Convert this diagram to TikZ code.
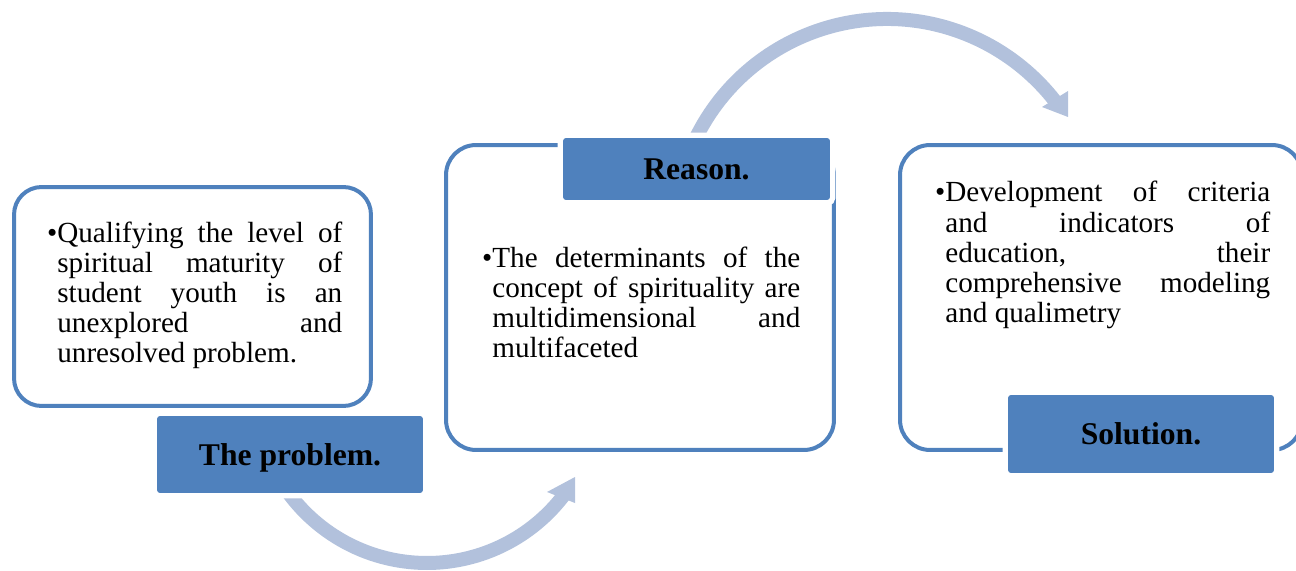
\documentclass[tikz,border=0pt]{standalone}
\usepackage{fontspec}
\setmainfont{Liberation Serif}
\definecolor{boxblue}{HTML}{4F81BD}
\definecolor{arrowblue}{HTML}{B2C1DC}
\newcommand{\bodyfont}{\fontsize{16.6}{17.2}\selectfont\tolerance=10000\relax\hyphenpenalty=10000\relax}

\begin{document}
\begin{tikzpicture}[x=0.02cm, y=-0.02cm,
		bigbox/.style={draw=boxblue, line width=0.08cm, fill=white, rounded corners=0.6cm},
		tagbox/.style={fill=boxblue, rounded corners=0.06cm, preaction={draw=white, line width=0.22cm},
			inner sep=0pt, text depth=0pt, font=\fontsize{18}{20}\selectfont\bfseries},
		bodytext/.style={inner sep=0pt, anchor=base west, align=justify, font=\bodyfont},
		arcband/.style={draw=arrowblue, line width=0.28cm}]
		
		\useasboundingbox (0,0) rectangle (1296,571);
		
		% box of the problem
		\node [bigbox, rounded corners=0.55cm, minimum width=7.14cm, minimum height=4.38cm] (probbox) at (192.5,296.5) {};
		
		% box of the reason
		\node [bigbox, minimum width=7.76cm, minimum height=6.1cm] (reasbox) at (640,297.5) {};
		
		% box of the solution
		\node [bigbox, minimum width=8.04cm, minimum height=6.1cm] (solbox) at (1101,297.5) {};
		
		% arrow from problem to reason
		\coordinate (lowarc) at (427,391);
		\draw [arcband] (lowarc) ++(150:172) arc [start angle=150, end angle=37, radius=172];
		\fill [arrowblue] (547,492) -- (575,477) -- (575,503) -- cycle;
		
		% arrow from reason to solution
		\coordinate (toparc) at (887,232);
		\draw [arcband] (toparc) ++(205:213) arc [start angle=205, end angle=323, radius=213];
		\fill [arrowblue] (1042,107) -- (1068,91) -- (1068,117) -- cycle;
		
		% tags
		\node [tagbox, minimum width=5.32cm, minimum height=1.54cm] (probtag) at (290,454.5) {The problem.};
		\node [tagbox, minimum width=5.34cm, minimum height=1.24cm] (reastag) at (696.5,169) {Reason.};
		\node [tagbox, minimum width=5.32cm, minimum height=1.56cm] (soltag) at (1141,434) {Solution.};
		
		% texts
		\node [bodytext, text width=5.7cm] (probtext) at (57,242) {\llap{\textbullet}Qualifying the level of\linebreak spiritual maturity of\linebreak student youth is an\linebreak unexplored and\linebreak unresolved problem.};
		\node [bodytext, text width=6.16cm] (reastext) at (492,267) {\llap{\textbullet}The determinants of the\linebreak concept of spirituality are\linebreak multidimensional and\linebreak multifaceted};
		\node [bodytext, text width=6.5cm] (soltext) at (945,202) {\llap{\textbullet}Development of criteria\linebreak and indicators of\linebreak education, their\linebreak comprehensive modeling\linebreak and qualimetry};
		
\end{tikzpicture}
\end{document}
